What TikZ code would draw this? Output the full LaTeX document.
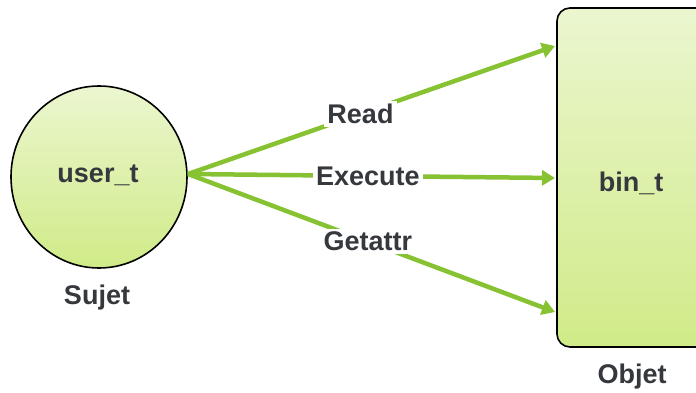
\documentclass[tikz,border=0pt]{standalone}
\usepackage{fontspec}
\setmainfont{Liberation Sans}
\usetikzlibrary{arrows.meta,shapes.geometric}
\definecolor{arrowgreen}{HTML}{86C232}
\definecolor{txt}{HTML}{35383C}
\definecolor{fillTop}{HTML}{EBF6CF}
\definecolor{fillBot}{HTML}{D0EB88}
\tikzset{
  lbl/.style={font=\fontsize{27}{29}\selectfont\bfseries, text=txt, inner sep=1pt},
  edgelbl/.style={lbl, fill=white, inner sep=3pt},
  conn/.style={draw=arrowgreen, line width=4.5pt, -{Triangle[length=13pt,width=15pt]}},
}
\begin{document}
\begin{tikzpicture}[x=1pt,y=1pt]
\useasboundingbox (0,0) rectangle (696,-393);
\node[ellipse, draw=black, line width=1.6pt, top color=fillTop, bottom color=fillBot,
      minimum width=176pt, minimum height=182pt, inner sep=0pt] (sujet) at (99,-177) {};
\node[lbl] (usert) at (98,-175) {user\_t};
\node[lbl] (sujetlbl) at (97,-298) {Sujet};
\begin{scope}
\clip (0,0) rectangle (696,-393);
\draw[line width=1.6pt, rounded corners=13pt, top color=fillTop, bottom color=fillBot]
  (557,-8) rectangle (720,-347);
\end{scope}
\node[lbl] (bint) at (631,-183) {bin\_t};
\node[lbl] (objetlbl) at (632,-377) {Objet};
\coordinate (src) at (188,-174);
\coordinate (tRead) at (555,-46);
\coordinate (tExec) at (555,-178);
\coordinate (tGet) at (555,-312);
\draw[conn] (src) -- node[edgelbl, pos=0.47] (read) {Read} (tRead);
\draw[conn] (src) -- node[edgelbl, pos=0.49] (exec) {Execute} (tExec);
\draw[conn] (src) -- node[edgelbl, pos=0.49] (getattr) {Getattr} (tGet);
\end{tikzpicture}
\end{document}
